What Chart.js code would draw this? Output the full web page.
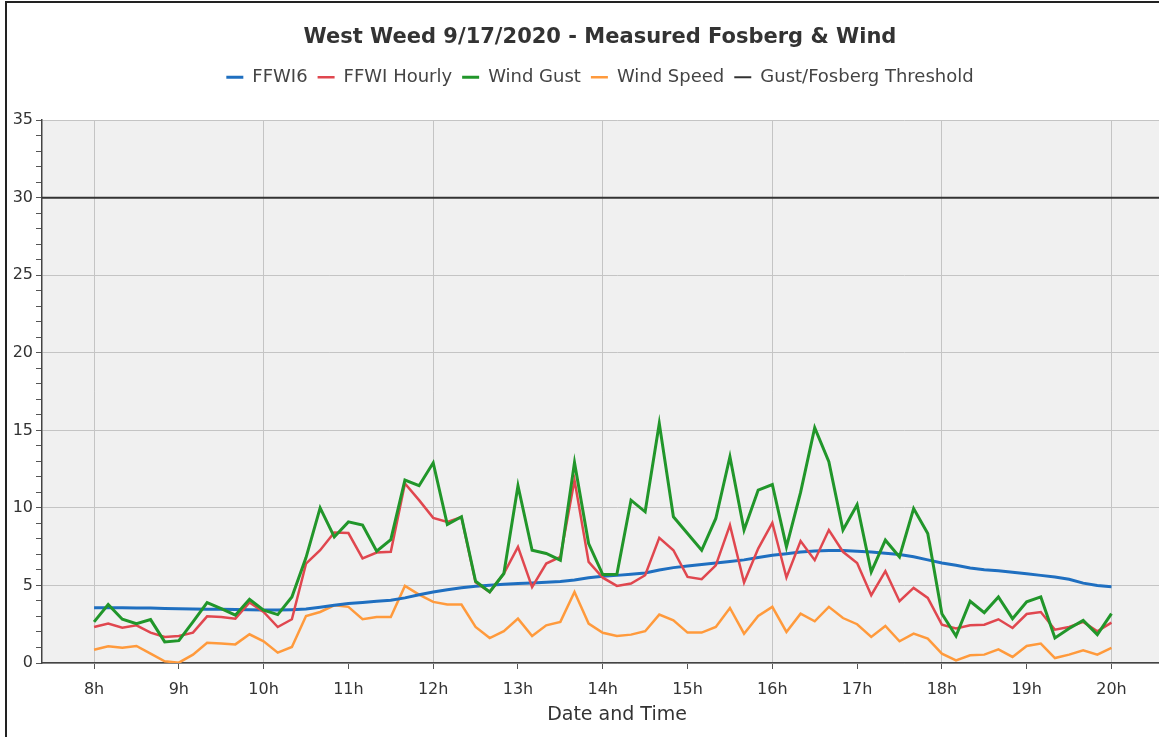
<!DOCTYPE html>
<html>
<head>
<meta charset="utf-8">
<title>West Weed 9/17/2020</title>
<script src="https://cdn.jsdelivr.net/npm/chart.js@4"></script>
<style>
  html, body { margin: 0; padding: 0; background: #fff; overflow: hidden; }
  .frame {
    position: absolute; left: 5px; top: 1px; width: 1154px; height: 736px;
    border-left: 2px solid #222; border-top: 2px solid #222; overflow: hidden;
  }
  .box { position: absolute; left: 1px; top: 0; width: 1184px; height: 734px; }
</style>
</head>
<body>
<div class="frame"><div class="box"><canvas id="fosbergChart"></canvas></div></div>
<script>
// 10 minute readings, 8h to 20h
const times = [
    '8:00', '8:10', '8:20', '8:30', '8:40', '8:50',
    '9:00', '9:10', '9:20', '9:30', '9:40', '9:50',
    '10:00', '10:10', '10:20', '10:30', '10:40', '10:50',
    '11:00', '11:10', '11:20', '11:30', '11:40', '11:50',
    '12:00', '12:10', '12:20', '12:30', '12:40', '12:50',
    '13:00', '13:10', '13:20', '13:30', '13:40', '13:50',
    '14:00', '14:10', '14:20', '14:30', '14:40', '14:50',
    '15:00', '15:10', '15:20', '15:30', '15:40', '15:50',
    '16:00', '16:10', '16:20', '16:30', '16:40', '16:50',
    '17:00', '17:10', '17:20', '17:30', '17:40', '17:50',
    '18:00', '18:10', '18:20', '18:30', '18:40', '18:50',
    '19:00', '19:10', '19:20', '19:30', '19:40', '19:50',
    '20:00'
]

const ffwi6 = [
    3.57, 3.57, 3.56, 3.55, 3.54, 3.52,
    3.50, 3.48, 3.47, 3.46, 3.45, 3.44,
    3.42, 3.42, 3.44, 3.48, 3.60, 3.72,
    3.83, 3.90, 3.98, 4.05, 4.20, 4.40,
    4.58, 4.72, 4.85, 4.95, 5.02, 5.08,
    5.12, 5.16, 5.20, 5.25, 5.35, 5.50,
    5.60, 5.65, 5.72, 5.80, 6.00, 6.15,
    6.25, 6.35, 6.45, 6.55, 6.65, 6.80,
    6.95, 7.05, 7.15, 7.22, 7.25, 7.25,
    7.20, 7.15, 7.08, 7.00, 6.85, 6.65,
    6.45, 6.30, 6.12, 6.02, 5.95, 5.85,
    5.75, 5.65, 5.55, 5.40, 5.15, 5.00,
    4.92
]

const ffwiHourly = [
    2.32, 2.54, 2.28, 2.43, 1.96, 1.68,
    1.74, 1.96, 3.01, 2.97, 2.86, 3.90,
    3.29, 2.32, 2.82, 6.41, 7.27, 8.41,
    8.38, 6.74, 7.12, 7.17, 11.58, 10.50,
    9.36, 9.10, 9.40, 5.20, 4.58, 5.77,
    7.49, 4.89, 6.41, 6.84, 11.79, 6.52,
    5.50, 4.97, 5.12, 5.66, 8.07, 7.27,
    5.55, 5.40, 6.30, 8.89, 5.19, 7.38,
    9.04, 5.51, 7.86, 6.63, 8.57, 7.17,
    6.45, 4.37, 5.92, 3.98, 4.84, 4.20,
    2.47, 2.22, 2.43, 2.47, 2.82, 2.26,
    3.16, 3.29, 2.15, 2.32, 2.65, 2.05,
    2.60
]

const windGust = [
    2.65, 3.77, 2.82, 2.54, 2.80, 1.36,
    1.44, 2.65, 3.90, 3.50, 3.08, 4.11,
    3.40, 3.12, 4.26, 6.80, 10.00, 8.13,
    9.10, 8.89, 7.21, 7.96, 11.79, 11.43,
    12.91, 8.93, 9.43, 5.27, 4.58, 5.77,
    11.43, 7.27, 7.06, 6.63, 12.93, 7.70,
    5.70, 5.72, 10.50, 9.75, 15.45, 9.43,
    8.35, 7.27, 9.32, 13.30, 8.57, 11.15,
    11.51, 7.49, 11.00, 15.17, 12.98, 8.57,
    10.20, 5.87, 7.92, 6.84, 9.96, 8.35,
    3.18, 1.74, 3.98, 3.25, 4.26, 2.86,
    3.94, 4.26, 1.61, 2.22, 2.75, 1.83,
    3.18
]

const windSpeed = [
    0.86, 1.08, 0.99, 1.10, 0.60, 0.11,
    0.02, 0.54, 1.31, 1.25, 1.20, 1.85,
    1.40, 0.67, 1.03, 3.03, 3.29, 3.72,
    3.62, 2.82, 2.97, 2.97, 4.97, 4.41,
    3.94, 3.77, 3.77, 2.32, 1.61, 2.05,
    2.86, 1.74, 2.43, 2.65, 4.58, 2.54,
    1.95, 1.74, 1.83, 2.05, 3.12, 2.75,
    1.96, 1.96, 2.32, 3.55, 1.89, 3.03,
    3.62, 2.00, 3.18, 2.69, 3.62, 2.90,
    2.50, 1.68, 2.39, 1.40, 1.89, 1.57,
    0.60, 0.17, 0.50, 0.54, 0.88, 0.39,
    1.10, 1.25, 0.32, 0.54, 0.82, 0.54,
    0.97
]

const threshold = 30

// x axis range in hours of the day
const xMin = 7.386
const xMax = 20.95

const fontFamily = '"DejaVu Sans", Verdana, sans-serif'

const hours = times.map(t => {
    const [h, m] = t.split(':')
    return Number(h) + Number(m) / 60
})

const toPoints = (values) => hours.map((x, i) => ({ x: x, y: values[i] }))

const lineSet = (label, values, color, width, order) => ({
    label: label,
    data: toPoints(values),
    borderColor: color,
    backgroundColor: color,
    borderWidth: width,
    pointRadius: 0,
    pointHoverRadius: 0,
    tension: 0,
    fill: false,
    order: order
})

// grey plot background
const plotBackground = {
    id: 'plotBackground',
    beforeDraw(chart) {
        const { ctx, chartArea } = chart
        ctx.save()
        ctx.fillStyle = '#f0f0f0'
        ctx.fillRect(chartArea.left, chartArea.top, chartArea.right - chartArea.left, chartArea.bottom - chartArea.top)
        ctx.restore()
    }
}

// extra space under the legend
const legendGap = {
    id: 'legendGap',
    beforeInit(chart) {
        const fit = chart.legend.fit
        chart.legend.fit = function () {
            fit.bind(chart.legend)()
            this.height += 24
        }
    }
}

window.addEventListener('load', () => {
    const el = document.getElementById('fosbergChart')
    new Chart(el, {
        type: 'line',
        data: {
            datasets: [
                lineSet('FFWI6', ffwi6, '#1f6fc0', 3, 2),
                lineSet('FFWI Hourly', ffwiHourly, '#e0474f', 2.5, 1),
                lineSet('Wind Gust', windGust, '#21962a', 3, 0),
                lineSet('Wind Speed', windSpeed, '#ff9a3c', 2.5, 3),
                {
                    label: 'Gust/Fosberg Threshold',
                    data: [{ x: xMin, y: threshold }, { x: xMax, y: threshold }],
                    borderColor: '#333',
                    backgroundColor: '#333',
                    borderWidth: 2,
                    pointRadius: 0,
                    pointHoverRadius: 0,
                    fill: false,
                    order: 4
                }
            ]
        },
        options: {
            responsive: true,
            maintainAspectRatio: false,
            animation: false,
            layout: {
                padding: { top: 0, left: 0, right: 0, bottom: 7 }
            },
            plugins: {
                title: {
                    display: true,
                    text: 'West Weed 9/17/2020 - Measured Fosberg & Wind',
                    color: '#333',
                    font: { family: fontFamily, size: 21, weight: 'bold' },
                    padding: { top: 22, bottom: 8 }
                },
                legend: {
                    display: true,
                    labels: {
                        usePointStyle: true,
                        pointStyle: 'line',
                        pointStyleWidth: 17,
                        color: '#444',
                        padding: 10,
                        font: { family: fontFamily, size: 18 },
                        sort: (a, b) => a.datasetIndex - b.datasetIndex
                    }
                },
                tooltip: { enabled: false }
            },
            scales: {
                x: {
                    type: 'linear',
                    min: xMin,
                    max: xMax,
                    border: { color: '#444', width: 1.5 },
                    grid: {
                        color: (c) => (c.tick && c.tick.value % 2 === 0) ? '#c4c4c4' : 'rgba(0,0,0,0)',
                        tickColor: '#555',
                        tickLength: 6
                    },
                    ticks: {
                        stepSize: 1,
                        includeBounds: false,
                        autoSkip: false,
                        maxRotation: 0,
                        padding: 11,
                        color: '#333',
                        font: { family: fontFamily, size: 16 },
                        callback: (v) => (v >= 8 && v <= 20) ? v + 'h' : ''
                    },
                    title: {
                        display: true,
                        text: 'Date and Time',
                        color: '#333',
                        font: { family: fontFamily, size: 19 },
                        padding: { top: -7, bottom: 4 }
                    }
                },
                y: {
                    min: 0,
                    max: 35,
                    afterFit(scale) {
                        scale.width = 34
                    },
                    border: { color: '#444', width: 1.5 },
                    grid: {
                        color: (c) => (c.tick && c.tick.value % 5 === 0) ? '#c4c4c4' : 'rgba(0,0,0,0)',
                        tickColor: '#555',
                        tickLength: 6
                    },
                    ticks: {
                        stepSize: 1,
                        autoSkip: false,
                        padding: 3,
                        color: '#333',
                        font: { family: fontFamily, size: 16 },
                        callback: (v) => v % 5 === 0 ? v : ''
                    }
                }
            }
        },
        plugins: [plotBackground, legendGap]
    })
})
</script>
</body>
</html>
